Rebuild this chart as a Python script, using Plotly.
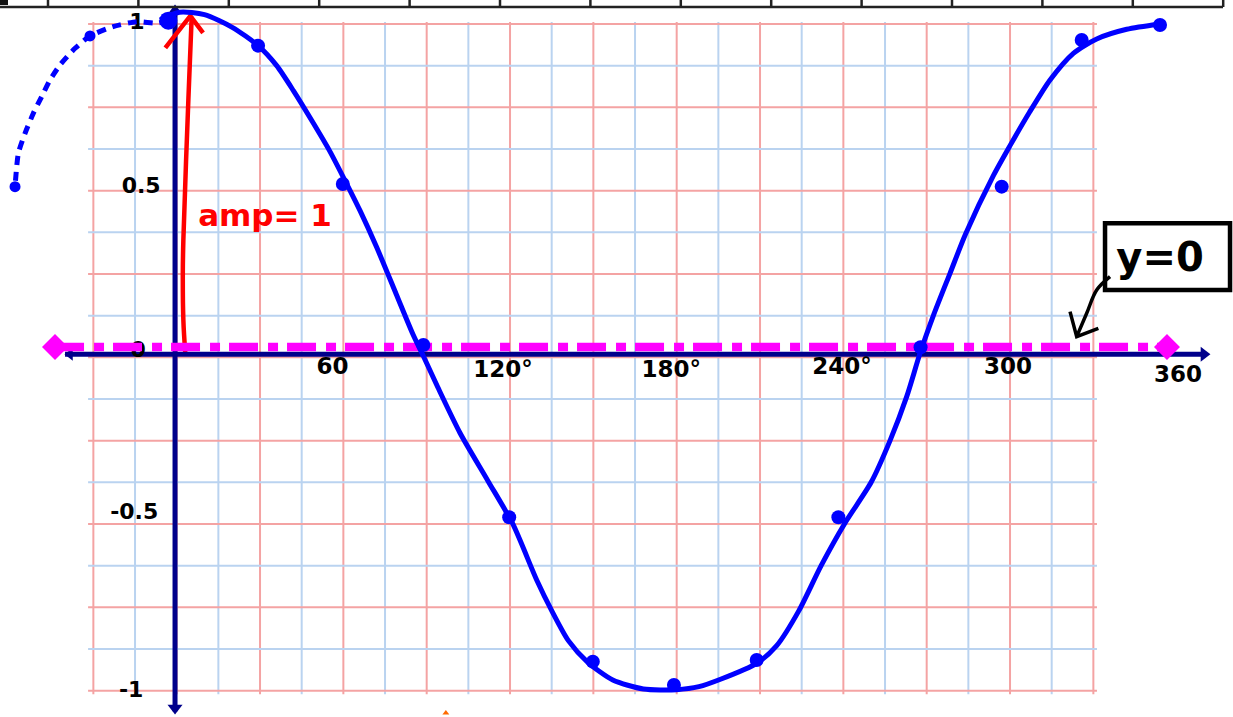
import plotly.graph_objects as go

# ---------------- data ----------------
# main hand-drawn cosine curve (degrees, value)
curve_x = [-6.0, 1.0, 10.0, 20.0, 29.3, 36.0, 42.0, 49.0, 55.0, 60.0, 66.0, 72.0, 79.0, 85.0, 89.0,
           94.0, 102.0, 112.0, 121.0, 129.6, 135.0, 141.0, 148.0, 157.0, 168.0, 180.0, 188.0,
           196.0, 208.8, 216.0, 224.0, 232.0, 240.6, 250.0, 256.8, 262.8, 267.6, 272.4, 278.4,
           284.0, 294.0, 300.0, 307.0, 314.4, 322.8, 331.2, 342.0, 354.0]
curve_y = [1.012, 1.035, 1.028, 0.99, 0.935, 0.875, 0.80, 0.705, 0.62, 0.54, 0.44, 0.33, 0.19, 0.07,
           0.0, -0.09, -0.227, -0.37, -0.50, -0.668, -0.76, -0.85, -0.915, -0.968, -0.995, -0.997,
           -0.988, -0.965, -0.918, -0.865, -0.76, -0.625, -0.497, -0.375, -0.25, -0.118, 0.012,
           0.125, 0.252, 0.37, 0.545, 0.635, 0.735, 0.832, 0.912, 0.955, 0.984, 1.0]

# plotted points (dots)
dot_x = [-3.0, 29.3, 59.8, 88.8, 119.7, 149.8, 179.0, 208.8, 238.2, 267.8, 297.0, 325.8, 354.0]
dot_y = [1.01, 0.935, 0.52, 0.037, -0.48, -0.913, -0.983, -0.908, -0.48, 0.03, 0.512, 0.952, 0.997]

# dashed extension to the left
dash_x = [-3.0, -7.2, -14.4, -22.9, -31.2, -36.6, -42.0, -45.6, -48.6, -51.6, -54.6, -57.0, -58.2]
dash_y = [1.01, 1.002, 1.007, 0.992, 0.964, 0.927, 0.877, 0.832, 0.782, 0.732, 0.672, 0.612, 0.512]
dash_dot_x = [-31.2, -58.2]
dash_dot_y = [0.964, 0.512]

# y = 0 midline (magenta) end points
mid_x = [-43.8, 356.5]
mid_y = [0.031, 0.031]

# amplitude arrow (red)
amp_x = [3.1, 2.4, 2.2, 2.4, 4.2, 5.4]
amp_y = [0.012, 0.112, 0.253, 0.352, 0.772, 1.022]
amp_head_x = [-4.1, 4.9, 9.5]
amp_head_y = [0.928, 1.024, 0.973]

# pointer arrow from the "y=0" box
ptr_x = [336.0, 331.2, 327.6, 324.0]
ptr_y = [0.242, 0.202, 0.132, 0.062]
ptr_head_x = [321.6, 324.0, 331.8]
ptr_head_y = [0.137, 0.062, 0.087]

# axis tick labels
xlab_text = ["60", "120°", "180°", "240°", "300", "360"]
xlab_x = [56.1, 117.5, 178.0, 239.5, 299.3, 360.5]
xlab_y = [-0.032, -0.041, -0.041, -0.032, -0.032, -0.056]
ylab_text = ["1", "0.5", "0", "-0.5", "-1"]
ylab_x = [-14.3, -12.8, -13.9, -15.3, -16.4]
ylab_y = [1.0, 0.508, 0.016, -0.47, -1.004]

# ---------------- page geometry ----------------
W, H = 1233, 717
X_RANGE = [-63.61, 380.27]
Y_RANGE = [-1.0791, 1.0719]

BLUE = "#0000FF"
NAVY = "#00008B"
MAGENTA = "#FF00FF"
RED = "#FF0000"
GRID_RED = "#F4A3A3"
GRID_BLUE = "#BAD3F0"
FONT = "DejaVu Sans"

fig = go.Figure()

# grid (graph paper)
shapes = []
vx = [-30 + 15 * i for i in range(25)]
hy = [-1 + 0.125 * i for i in range(17)]
for i, v in enumerate(vx):
    shapes.append(dict(type="line", xref="x", yref="y", x0=v, x1=v, y0=-1.011, y1=1.006,
                       line=dict(color=GRID_RED if i % 2 == 0 else GRID_BLUE, width=2), layer="below"))
for i, v in enumerate(hy):
    shapes.append(dict(type="line", xref="x", yref="y", x0=-31.9, x1=331.3, y0=v, y1=v,
                       line=dict(color=GRID_RED if i % 2 == 0 else GRID_BLUE, width=2), layer="below"))

# top ruler band (screen decoration)
ruler_ticks = [48 + 90.4 * k for k in range(14)]
shapes.append(dict(type="line", xref="paper", yref="paper", x0=0, x1=1223 / W,
                   y0=1 - 7 / H, y1=1 - 7 / H, line=dict(color="#222222", width=2.5), layer="above"))
for t in ruler_ticks:
    shapes.append(dict(type="line", xref="paper", yref="paper", x0=t / W, x1=t / W,
                       y0=1 - 7 / H, y1=1.0, line=dict(color="#222222", width=2.5), layer="above"))
shapes.append(dict(type="rect", xref="paper", yref="paper", x0=0, x1=8 / W, y0=1 - 5 / H, y1=1,
                   fillcolor="#111111", line=dict(width=0), layer="above"))

# "y=0" box (outline only)
shapes.append(dict(type="rect", xref="x", yref="y", x0=334.2, x1=379.2, y0=0.202, y1=0.402,
                   line=dict(color="black", width=4.5), fillcolor="rgba(0,0,0,0)", layer="above"))

MK = dict(opacity=1, line=dict(width=0))

# y axis
fig.add_trace(go.Scatter(x=[-0.6, -0.6], y=[1.048, -1.062], mode="lines",
                         line=dict(color=NAVY, width=5), hoverinfo="skip"))
# red amplitude arrow
fig.add_trace(go.Scatter(x=amp_x, y=amp_y, mode="lines", line=dict(color=RED, width=4.5, shape="spline"),
                         hoverinfo="skip"))
fig.add_trace(go.Scatter(x=amp_head_x, y=amp_head_y, mode="lines", line=dict(color=RED, width=4.5),
                         hoverinfo="skip"))
# x axis
fig.add_trace(go.Scatter(x=[-40.2, 370.0], y=[0.009, 0.009], mode="lines",
                         line=dict(color=NAVY, width=5), hoverinfo="skip"))
# axis arrowheads
fig.add_trace(go.Scatter(x=[369.8, -38.4], y=[0.009, 0.009], mode="markers",
                         marker=dict(symbol=["triangle-right", "triangle-left"], size=[13, 11], color=NAVY, **MK),
                         hoverinfo="skip"))
fig.add_trace(go.Scatter(x=[-0.6, -0.6], y=[1.042, -1.052], mode="markers",
                         marker=dict(symbol=["triangle-up", "triangle-down"], size=[11, 13], color=NAVY, **MK),
                         hoverinfo="skip"))

# y-axis labels ("0" sits under the midline)
fig.add_trace(go.Scatter(x=ylab_x, y=ylab_y, mode="text", text=ylab_text,
                         textfont=dict(family=FONT, size=22, color="black", weight="bold"), hoverinfo="skip"))

# magenta midline y = 0
fig.add_trace(go.Scatter(x=mid_x, y=mid_y, mode="lines",
                         line=dict(color=MAGENTA, width=8.5, dash="29px,10px,10px,9px"), hoverinfo="skip"))
fig.add_trace(go.Scatter(x=mid_x, y=mid_y, mode="markers",
                         marker=dict(symbol="diamond", size=20, color=MAGENTA, **MK), hoverinfo="skip"))

# x-axis labels
fig.add_trace(go.Scatter(x=xlab_x, y=xlab_y, mode="text", text=xlab_text,
                         textfont=dict(family=FONT, size=23, color="black", weight="bold"), hoverinfo="skip"))

# dashed left extension
fig.add_trace(go.Scatter(x=dash_x, y=dash_y, mode="lines",
                         line=dict(color=BLUE, width=5, dash="9px,7px", shape="spline", smoothing=0.6),
                         hoverinfo="skip"))
fig.add_trace(go.Scatter(x=dash_dot_x, y=dash_dot_y, mode="markers",
                         marker=dict(size=11, color=BLUE, **MK), hoverinfo="skip"))

# main curve and its dots
fig.add_trace(go.Scatter(x=curve_x, y=curve_y, mode="lines",
                         line=dict(color=BLUE, width=5, shape="spline", smoothing=0.7), hoverinfo="skip"))
fig.add_trace(go.Scatter(x=dot_x, y=dot_y, mode="markers",
                         marker=dict(size=[18] + [14] * 12, color=BLUE, **MK), hoverinfo="skip"))

# pointer arrow to the midline
fig.add_trace(go.Scatter(x=ptr_x, y=ptr_y, mode="lines", line=dict(color="black", width=3.5, shape="spline"),
                         hoverinfo="skip"))
fig.add_trace(go.Scatter(x=ptr_head_x, y=ptr_head_y, mode="lines", line=dict(color="black", width=3.5),
                         hoverinfo="skip"))

# "amp= 1" and "y=0" text
fig.add_trace(go.Scatter(x=[31.8], y=[0.418], mode="text", text=["amp= 1"],
                         textfont=dict(family=FONT, size=31, color=RED, weight="bold"), hoverinfo="skip"))
fig.add_trace(go.Scatter(x=[354.0], y=[0.29], mode="text", text=["y=0"],
                         textfont=dict(family=FONT, size=40, color="black", weight="bold"), hoverinfo="skip"))

# small orange mark at bottom
fig.add_trace(go.Scatter(x=[96.9], y=[-1.067], mode="markers",
                         marker=dict(symbol="triangle-up", size=6, color="#FF6A00", **MK), hoverinfo="skip"))

fig.update_layout(
    template="none",
    width=W, height=H, autosize=False,
    margin=dict(l=0, r=0, t=0, b=0, pad=0),
    paper_bgcolor="white", plot_bgcolor="white",
    showlegend=False,
    shapes=shapes,
    xaxis=dict(range=X_RANGE, visible=False, fixedrange=True),
    yaxis=dict(range=Y_RANGE, visible=False, fixedrange=True),
)

fig.write_html("out.html", config={"displayModeBar": False},
               post_script="document.body.style.margin='0';document.body.style.overflow='hidden';")
